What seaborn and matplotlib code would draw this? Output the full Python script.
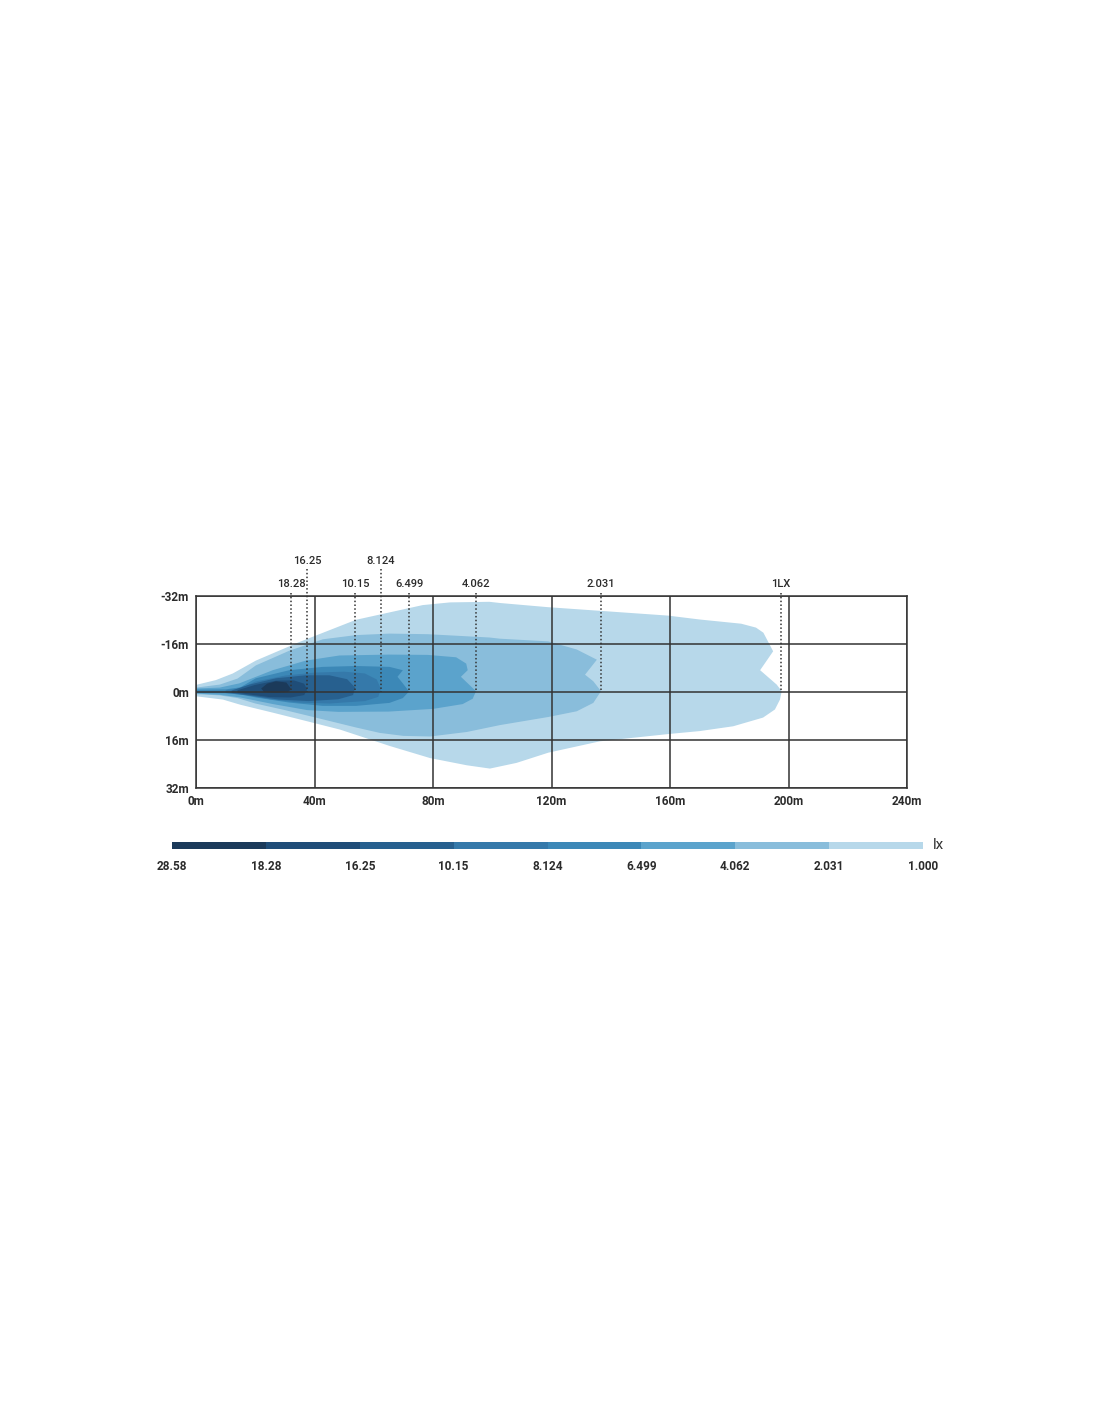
import numpy as np
import matplotlib
matplotlib.use('Agg')
import matplotlib.pyplot as plt
from matplotlib.colors import ListedColormap
import seaborn as sns

sns.set_style('white')
plt.rcParams['font.family'] = ['Roboto', 'DejaVu Sans']

# --- data ---
# legend boundaries (lx) and the colour of each band between them
legend_values = ['28.58', '18.28', '16.25', '10.15', '8.124', '6.499', '4.062', '2.031', '1.000']
band_colors = ['#1b3a5a', '#1f4d78', '#27608f', '#3579aa', '#3c88b7', '#5ba3cc', '#89bddb', '#b7d8ea']

# iso-lux outlines: distance (m) and lateral offset (m), top edge then bottom edge
iso_1000_x = [0, 6.7, 12.4, 20.2, 34.9, 54, 76.5, 85.7, 99, 102.6, 118.9, 159.3, 170, 184, 189, 191.5, 194.8, 190.4, 196, 197.7,
              197.1, 195.4, 191.4, 181.3, 170, 159.3, 136.4, 118.9, 108.2, 99.2, 91.4, 79, 65.5, 48.6, 37.4, 26.1, 14.9, 9.1, 0]
iso_1000_y = [-2.4, -4.0, -6.2, -10.5, -16.7, -24.1, -29, -29.9, -30.1, -29.7, -28.3, -25.5, -24.2, -22.8, -21.5, -19.8, -13.6, -7.3, -2.5, -0.3,
              2.5, 5.8, 8.5, 11.4, 13, 14, 16.4, 20.2, 23.6, 25.5, 24.4, 22, 18, 12.5, 9.7, 6.9, 4.2, 2.5, 1.4]

iso_2031_x = [0, 8, 14, 20.2, 31.5, 42.8, 54, 65.3, 78.2, 99, 102.6, 118.9, 128.5, 135.3, 131.3, 134.1, 136.7,
              134.1, 128.5, 118.9, 102.6, 91.4, 79, 70, 62, 54, 40, 30, 20, 14, 8, 0]
iso_2031_y = [-1.5, -2.5, -4.5, -8.9, -13.8, -17.6, -19, -19.5, -19.3, -18.2, -17.8, -16.9, -14.2, -10.8, -5.8, -3.6, -0.3,
              3.6, 6.4, 8.3, 11, 13.3, 14.8, 14.6, 13.6, 11.8, 8.4, 6.0, 3.8, 2.0, 1.1, 0.7]

iso_4062_x = [0, 8, 14.6, 25.9, 37.1, 48.4, 65.3, 78.2, 87.8, 91.2, 91.7, 89.4, 91.1, 94.5,
              93.4, 90, 80, 65, 48, 37.5, 26, 15, 8, 0]
iso_4062_y = [-1.2, -1.5, -2.9, -7.3, -10.5, -12.2, -12.5, -12.4, -11.6, -9.5, -7.3, -5.1, -3.5, -0.3,
              2.2, 4.0, 5.6, 6.5, 6.6, 6.0, 4.0, 1.8, 0.9, 0.5]

iso_6499_x = [0, 10, 15, 20.2, 31.5, 42.8, 54, 65.3, 69.8, 68, 69.8, 71.9,
              69.8, 65.3, 54, 42.8, 31.5, 20.2, 15, 10, 0]
iso_6499_y = [-0.8, -0.9, -1.6, -4.6, -7.3, -8.4, -8.7, -8.4, -7.3, -5.1, -2.9, -0.2,
              2.0, 3.6, 4.6, 4.6, 3.5, 1.8, 0.8, 0.4, 0.3]

iso_8124_x = [10, 15, 20, 30, 40, 50, 57, 61, 62.4, 61.5, 57, 45, 35, 25, 18, 10]
iso_8124_y = [-0.6, -1.2, -3.5, -5.5, -6.5, -6.8, -6.2, -4.2, -1.0, 1.6, 3.0, 3.8, 3.5, 2.4, 1.2, 0.3]

iso_1015_x = [12, 18, 27, 37, 45, 51, 53.7, 53, 48, 38, 28, 20, 12]
iso_1015_y = [-0.5, -2.5, -4.6, -5.6, -5.6, -4.3, -1.5, 1.0, 2.4, 3.0, 2.5, 1.4, 0.3]

iso_1625_x = [14, 20, 27, 33, 36.5, 37.5, 36.5, 32, 25, 18, 14]
iso_1625_y = [-0.6, -2.4, -3.8, -3.9, -2.8, -0.8, 1.0, 1.8, 1.7, 0.8, 0.2]

iso_1828_x = [22, 24, 27, 30.5, 32.1, 31, 27, 23]
iso_1828_y = [-1.2, -2.8, -3.6, -3.2, -1.0, 0.0, 0.2, 0.0]

# reach markers above the chart
marker_labels = ['18.28', '16.25', '10.15', '8.124', '6.499', '4.062', '2.031', '1LX']
marker_x = [32.1, 37.5, 53.7, 62.4, 71.9, 94.5, 136.7, 197.5]
marker_upper = [False, True, False, True, False, False, False, False]

x_ticks = [0, 40, 80, 120, 160, 200, 240]
x_tick_labels = ['0m', '40m', '80m', '120m', '160m', '200m', '240m']
y_ticks = [-32, -16, 0, 16, 32]
y_tick_labels = ['-32m', '-16m', '0m', '16m', '32m']

# --- figure ---
fig = plt.figure(figsize=(11, 14.22), dpi=100)
ax = fig.add_axes([0.1782, 0.4458, 0.6464, 0.1350])

outlines = [(iso_1000_x, iso_1000_y), (iso_2031_x, iso_2031_y), (iso_4062_x, iso_4062_y),
            (iso_6499_x, iso_6499_y), (iso_8124_x, iso_8124_y), (iso_1015_x, iso_1015_y),
            (iso_1625_x, iso_1625_y), (iso_1828_x, iso_1828_y)]
fill_colors = band_colors[::-1]
for (xs, ys), col in zip(outlines, fill_colors):
    ax.fill(xs, ys, color=col, lw=0, zorder=1)

ax.set_xlim(0, 240)
ax.set_ylim(32, -32)
ax.set_xticks(x_ticks)
ax.set_yticks(y_ticks)
ax.set_xticklabels(x_tick_labels)
ax.set_yticklabels(y_tick_labels)
ax.tick_params(length=0, labelsize=8.5, colors='#2b2b2b', pad=5)
for lab in ax.get_xticklabels() + ax.get_yticklabels():
    lab.set_fontweight('bold')
ax.grid(True, color='#333333', lw=1.1)
ax.set_axisbelow(False)
for sp in ax.spines.values():
    sp.set_color('#333333')
    sp.set_linewidth(1.1)

# dotted reach lines with their values
for lab, xv, up in zip(marker_labels, marker_x, marker_upper):
    y_top = -41.0 if up else -33.0
    ax.plot([xv, xv], [y_top, 0], ls=(0, (1, 1.5)), color='#333333', lw=1.1,
            clip_on=False, zorder=4)
    ax.text(xv, -43.8 if up else -35.9, lab, ha='center', va='center', fontsize=8,
            fontweight='medium', color='#2b2b2b', clip_on=False)

# legend bar drawn as a one-row heatmap
cax = fig.add_axes([0.1564, 0.4030, 0.6827, 0.0050])
sns.heatmap(np.arange(len(band_colors)).reshape(1, -1), cmap=ListedColormap(band_colors),
            cbar=False, ax=cax, xticklabels=False, yticklabels=False)
cax.set_xticks(range(len(legend_values)))
cax.set_xticklabels(legend_values)
cax.tick_params(length=0, labelsize=8.5, colors='#2b2b2b', pad=8)
for lab in cax.get_xticklabels():
    lab.set_fontweight('bold')
cax.text(8.1, 0.5, 'lx', ha='left', va='center', fontsize=11, color='#333333')

fig.savefig('out.png', dpi=100, facecolor='white')
